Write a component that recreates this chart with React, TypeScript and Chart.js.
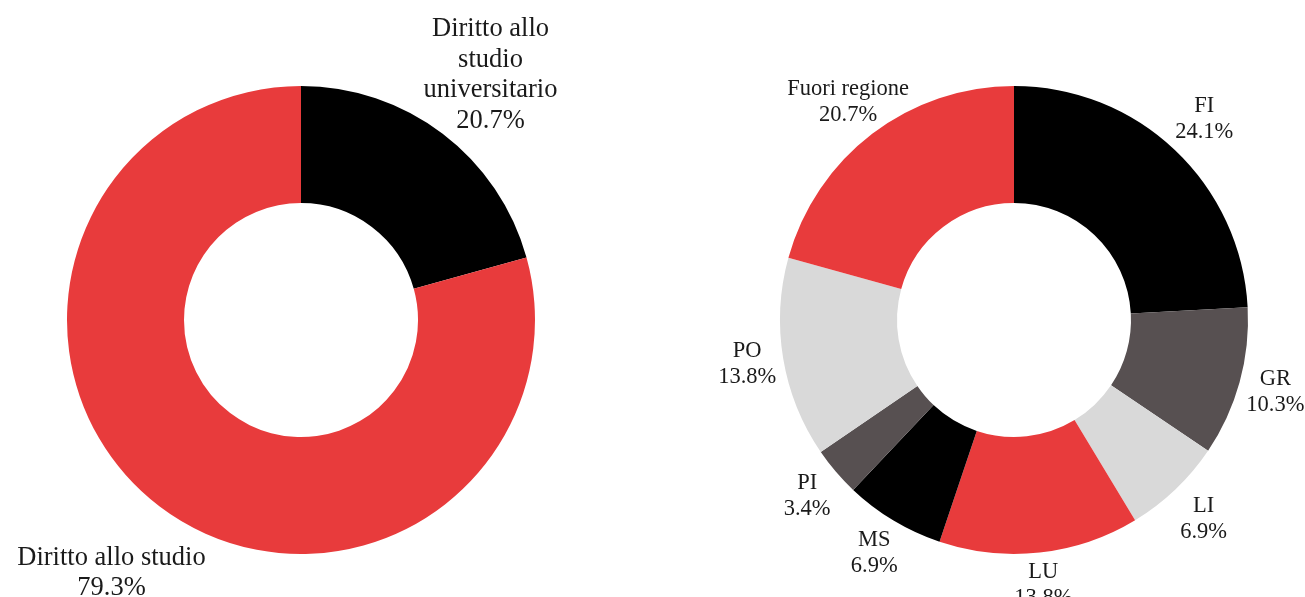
import React, { useEffect, useRef } from "react";
import { Chart, registerables } from "chart.js";
Chart.register(...registerables);

const leftLabels = ["Diritto allo\nstudio\nuniversitario", "Diritto allo studio"];
const leftValues = [20.7, 79.3];
const leftColors = ["#000000", "#E83B3C"];

const rightLabels = ["FI", "GR", "LI", "LU", "MS", "PI", "PO", "Fuori regione"];
const rightValues = [24.1, 10.3, 6.9, 13.8, 6.9, 3.4, 13.8, 20.7];
const rightColors = ["#000000", "#575051", "#D9D9D9", "#E83B3C", "#000000", "#575051", "#D9D9D9", "#E83B3C"];

const FONT = '"Liberation Serif", "DejaVu Serif", serif';

type LabelStyle = {
  fontSize: number;
  lineHeight: number;
  gap: number;
  boxFit: boolean;
  yShift: number;
};

function makeLabelPlugin(s: LabelStyle) {
  return {
    id: "outLabels",
    afterDatasetsDraw(chart: any) {
      const ctx = chart.ctx;
      const meta = chart.getDatasetMeta(0);
      const labels = chart.data.labels as string[];
      const values = chart.data.datasets[0].data as number[];
      ctx.save();
      ctx.font = `${s.fontSize}px ${FONT}`;
      ctx.fillStyle = "#1a1a1a";
      ctx.textAlign = "center";
      ctx.textBaseline = "middle";
      meta.data.forEach((arc: any, i: number) => {
        const { x, y, startAngle, endAngle, outerRadius } = arc.getProps(
          ["x", "y", "startAngle", "endAngle", "outerRadius"],
          true
        );
        const mid = (startAngle + endAngle) / 2;
        const dx = Math.cos(mid);
        const dy = Math.sin(mid);
        const lines = [...labels[i].split("\n"), values[i].toFixed(1) + "%"];
        const w = Math.max(...lines.map((l) => ctx.measureText(l).width));
        const h = lines.length * s.lineHeight;
        let t = 0;
        if (s.boxFit) {
          const tx = Math.abs(dx) > 1e-6 ? w / 2 / Math.abs(dx) : Infinity;
          const ty = Math.abs(dy) > 1e-6 ? h / 2 / Math.abs(dy) : Infinity;
          t = Math.min(tx, ty);
        }
        const r = outerRadius + s.gap + t;
        const cx = x + dx * r;
        const cy = y + dy * r + s.yShift;
        lines.forEach((l, n) => {
          ctx.fillText(l, cx, cy - h / 2 + s.lineHeight * (n + 0.5));
        });
      });
      ctx.restore();
    },
  };
}

function Donut(props: {
  labels: string[];
  values: number[];
  colors: string[];
  left: number;
  width: number;
  padding: { left: number; right: number; top: number; bottom: number };
  labelStyle: LabelStyle;
}) {
  const ref = useRef<HTMLCanvasElement>(null);
  useEffect(() => {
    const chart = new Chart(ref.current!, {
      type: "doughnut",
      data: {
        labels: props.labels,
        datasets: [
          {
            data: props.values,
            backgroundColor: props.colors,
            borderWidth: 0,
          },
        ],
      },
      options: {
        animation: false,
        responsive: false,
        cutout: "50%",
        layout: { padding: props.padding },
        plugins: { legend: { display: false }, tooltip: { enabled: false } },
      },
      plugins: [makeLabelPlugin(props.labelStyle)],
    });
    return () => chart.destroy();
  }, []);
  return (
    <canvas
      ref={ref}
      width={props.width}
      height={597}
      style={{ position: "absolute", left: props.left, top: 0, width: props.width, height: 597 }}
    />
  );
}

export default function App() {
  return (
    <div style={{ position: "fixed", left: 0, top: 0, width: 1305, height: 597, background: "#fff", overflow: "hidden" }}>
      <Donut
        labels={leftLabels}
        values={leftValues}
        colors={leftColors}
        left={0}
        width={602}
        padding={{ left: 67, right: 67, top: 86, bottom: 43 }}
        labelStyle={{ fontSize: 26.5, lineHeight: 30.5, gap: 79, boxFit: false, yShift: 4 }}
      />
      <Donut
        labels={rightLabels}
        values={rightValues}
        colors={rightColors}
        left={652}
        width={653}
        padding={{ left: 128, right: 57, top: 86, bottom: 43 }}
        labelStyle={{ fontSize: 22.5, lineHeight: 26, gap: 7, boxFit: true, yShift: 0 }}
      />
    </div>
  );
}
